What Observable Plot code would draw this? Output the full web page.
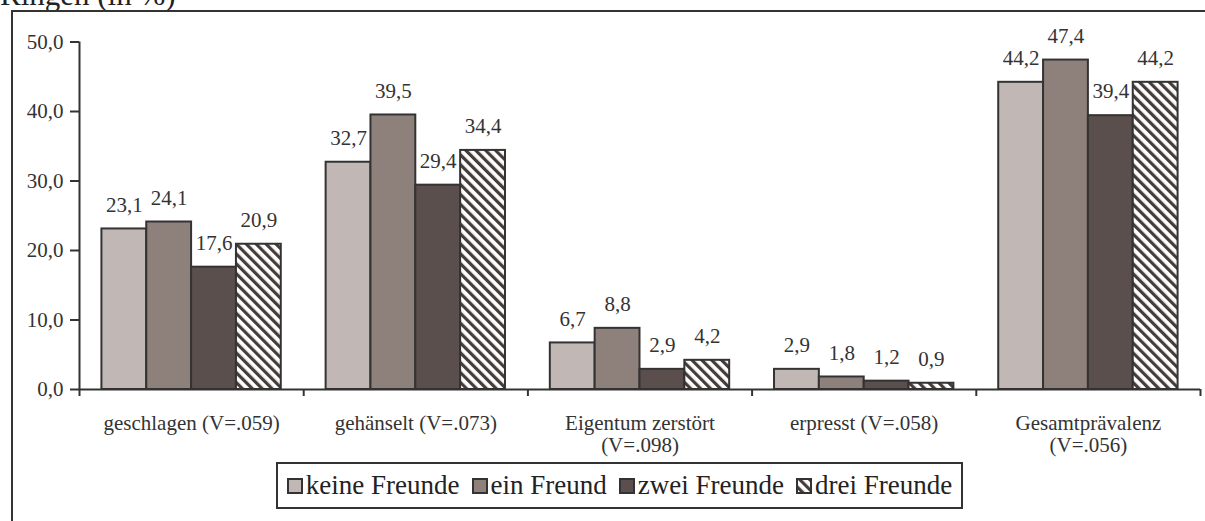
<!DOCTYPE html>
<html>
<head>
<meta charset="utf-8">
<script src="https://cdn.jsdelivr.net/npm/d3@7"></script>
<script src="https://cdn.jsdelivr.net/npm/@observablehq/plot@0.6"></script>
<style>
  html, body { margin: 0; padding: 0; background: #fff; }
  body { width: 1205px; height: 521px; position: relative; overflow: hidden; font-family: "Liberation Serif", "Times New Roman", serif; color: #333; }
  #title { position: absolute; left: 0; top: -21px; font-size: 31px; line-height: 31px; white-space: nowrap; color: #222; font-family: "Liberation Serif"; }
  #frame { position: absolute; left: 11px; top: 10px; width: 1300px; height: 600px; border-left: 2px solid #333; border-top: 2px solid #333; box-sizing: border-box; }
  .layer { position: absolute; left: 0; top: 0; }
  .layer svg, .layer svg text { font-family: "Liberation Serif", "Times New Roman", serif !important; }
  #legend { position: absolute; left: 276px; top: 462px; width: 687px; height: 47px; border: 2px solid #333; box-sizing: border-box; display: flex; align-items: center; justify-content: center; font-size: 27px; color: #222; white-space: nowrap; font-family: "Liberation Serif"; }
  #legend .item { display: flex; align-items: center; margin: 0 6px; }
  #legend svg { margin-right: 3px; }
</style>
</head>
<body>
<div id="title">Ringen (in %)</div>
<div id="frame"></div>
<div id="chart" class="layer"></div>
<div id="axes" class="layer"></div>
<div id="legend"></div>
<script>
// ---- data ----
const categories = ["geschlagen (V=.059)", "gehänselt (V=.073)", "Eigentum zerstört\n(V=.098)", "erpresst (V=.058)", "Gesamtprävalenz\n(V=.056)"];
const series = ["keine Freunde", "ein Freund", "zwei Freunde", "drei Freunde"];
const keineFreunde = [23.1, 32.7, 6.7, 2.9, 44.2];
const einFreund    = [24.1, 39.5, 8.8, 1.8, 47.4];
const zweiFreunde  = [17.6, 29.4, 2.9, 1.2, 39.4];
const dreiFreunde  = [20.9, 34.4, 4.2, 0.9, 44.2];
const yTicks = [0, 10, 20, 30, 40, 50];
const colors = ["#c1b7b4", "#8e807b", "#5a4f4c", "url(#hatch)"];

const valuesBySeries = [keineFreunde, einFreund, zweiFreunde, dreiFreunde];
const data = [];
categories.forEach((c, i) => series.forEach((s, j) => data.push({cat: c, series: s, value: valuesBySeries[j][i]})));
const fmt = v => v.toFixed(1).replace(".", ",");
const boundaries = d3.range(categories.length + 1);

const W = 1205, H = 521;
const FONT = "Liberation Serif";
const margins = {marginLeft: 79, marginRight: 5, marginTop: 41.5, marginBottom: 132};

const chart = Plot.plot({
  width: W, height: H, ...margins,
  style: {fontFamily: FONT, fontSize: "21px", color: "#333", background: "none"},
  fx: {domain: categories, padding: 0, axis: null, round: false},
  x: {domain: series, paddingInner: 0, paddingOuter: 0.5, axis: null, round: false},
  y: {domain: [0, 50], axis: null},
  color: {domain: series, range: colors},
  marks: [
    Plot.barY(data, {fx: "cat", x: "series", y: "value", fill: "series", stroke: "#333", strokeWidth: 2}),
    Plot.text(data, {fx: "cat", x: "series", y: "value", text: d => fmt(d.value), dy: -24, fontSize: 21, fontFamily: FONT, fill: "#333"}),
    Plot.text(categories, {fx: d => d, text: d => d, frameAnchor: "bottom", lineAnchor: "top", dy: 25, fontSize: 21, fontFamily: FONT, lineHeight: 1.05, fill: "#333"})
  ]
});
chart.style.background = "none";
chart.style.fontFamily = FONT;
// hatch pattern
const defs = d3.select(chart).insert("defs", ":first-child");
const pat = defs.append("pattern").attr("id", "hatch").attr("patternUnits", "userSpaceOnUse")
  .attr("width", 7).attr("height", 7).attr("patternTransform", "rotate(-45)");
pat.append("rect").attr("width", 7).attr("height", 7).attr("fill", "#fff");
pat.append("rect").attr("width", 3.2).attr("height", 7).attr("fill", "#463c39");
document.getElementById("chart").appendChild(chart);

const axes = Plot.plot({
  width: W, height: H, ...margins,
  style: {fontFamily: FONT, fontSize: "21px", color: "#333", background: "none"},
  x: {domain: [0, categories.length], axis: null},
  y: {domain: [0, 50], axis: null},
  marks: [
    Plot.axisY({ticks: yTicks, tickSize: 9, tickPadding: 7, tickFormat: fmt, strokeWidth: 2, fontSize: 21, fontFamily: FONT}),
    Plot.axisX({ticks: boundaries, tickSize: 7, tickFormat: () => "", strokeWidth: 2}),
    Plot.ruleY([0], {strokeWidth: 2}),
    Plot.ruleX([0], {y1: 0, y2: 50, strokeWidth: 2})
  ]
});
axes.style.background = "none";
axes.style.fontFamily = FONT;
document.getElementById("axes").appendChild(axes);

// legend
const legend = document.getElementById("legend");
series.forEach((s, j) => {
  const item = document.createElement("div");
  item.className = "item";
  item.innerHTML = `<svg width="16" height="16"><rect x="1" y="1" width="14" height="14" fill="${colors[j]}" stroke="#333" stroke-width="2"/></svg><span>${s}</span>`;
  legend.appendChild(item);
});
</script>
</body>
</html>
